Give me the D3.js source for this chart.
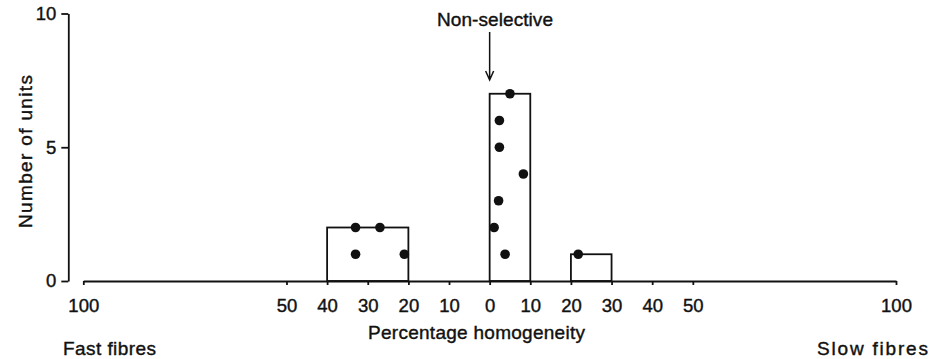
<!DOCTYPE html>
<html>
<head>
<meta charset="utf-8">
<script src="https://cdn.jsdelivr.net/npm/d3@7"></script>
<style>
    body { margin: 0; background: #fff; }
    svg text { font-family: "Liberation Sans", Arial, sans-serif; fill: #111; stroke: #111; stroke-width: 0.4px; }
</style>
</head>
<body>
<svg id="chart" width="936" height="359"></svg>
<script>
// tick values (signed: fast fibres negative, slow fibres positive)
const xTickValues = [-100, -50, -40, -30, -20, -10, 0, 10, 20, 30, 40, 50, 100];
const yTickValues = [0, 5, 10];

// histogram bins
const binStart = [-40, 0, 20];
const binEnd = [-20, 10, 30];
const binCount = [2, 7, 1];

// individual units: homogeneity value and its stacking position
const unitValue = [-33, -33, -27, -21, 3.8, 1.1, 2.2, 8.3, 2.4, 2.4, 5.0, 21.8];
const unitRank = [1, 2, 2, 1, 1, 2, 3, 4, 5, 6, 7, 1];

const svg = d3.select("#chart");
const ink = "#111";
const fontSize = 18.5;

const x = d3.scaleLinear().domain([-100, 100]).range([83.3, 896]);
const y = d3.scaleLinear().domain([0, 10]).range([281, 13.5]);

// x axis
const xAxis = svg.append("g")
    .attr("transform", `translate(0,${y(0)})`)
    .call(d3.axisBottom(x)
        .tickValues(xTickValues)
        .tickFormat(d => Math.abs(d))
        .tickSizeInner(4)
        .tickSizeOuter(0)
        .tickPadding(13.5));

// y axis
const yAxis = svg.append("g")
    .attr("transform", `translate(68.3,0)`)
    .call(d3.axisLeft(y)
        .tickValues(yTickValues)
        .tickSizeInner(7)
        .tickSizeOuter(0)
        .tickPadding(5));

[xAxis, yAxis].forEach(g => {
    g.select(".domain").attr("stroke", ink).attr("stroke-width", 1.8);
    g.selectAll(".tick line").attr("stroke", ink).attr("stroke-width", 1.8);
    g.selectAll(".tick text").attr("font-size", fontSize).attr("fill", ink)
        .style("font-family", '"Liberation Sans", Arial, sans-serif');
});

// bars
const bins = binStart.map((s, i) => ({ s: s, e: binEnd[i], n: binCount[i] }));
svg.append("g").selectAll("rect")
    .data(bins)
    .join("rect")
    .attr("x", d => x(d.s))
    .attr("y", d => y(d.n))
    .attr("width", d => x(d.e) - x(d.s))
    .attr("height", d => y(0) - y(d.n))
    .attr("fill", "none")
    .attr("stroke", ink)
    .attr("stroke-width", 1.8);

// units
const units = unitValue.map((v, i) => ({ v: v, r: unitRank[i] }));
svg.append("g").selectAll("circle")
    .data(units)
    .join("circle")
    .attr("cx", d => x(d.v))
    .attr("cy", d => y(d.r))
    .attr("r", 4.8)
    .attr("fill", ink);

// non-selective marker
const ax = x(0);
svg.append("text")
    .attr("x", 437)
    .attr("y", 25.5)
    .attr("font-size", 19)
    .attr("textLength", 116)
    .attr("lengthAdjust", "spacing")
    .text("Non-selective");

svg.append("path")
    .attr("d", `M${ax},32V80M${ax - 4},71L${ax},80L${ax + 4},71`)
    .attr("fill", "none")
    .attr("stroke", ink)
    .attr("stroke-width", 1.5);

// axis titles (lengths stretched to match the wider typeface of the original)
function title(tx, ty, str, len, rot) {
    svg.append("text")
        .attr("transform", `translate(${tx},${ty})` + (rot ? " rotate(-90)" : ""))
        .attr("font-size", 19)
        .attr("textLength", len)
        .attr("lengthAdjust", "spacing")
        .text(str);
}

title(32, 228, "Number of units", 153, true);
title(368, 339, "Percentage homogeneity", 217, false);
title(63, 355, "Fast fibres", 93, false);
title(817, 355, "Slow fibres", 111, false);
</script>
</body>
</html>
